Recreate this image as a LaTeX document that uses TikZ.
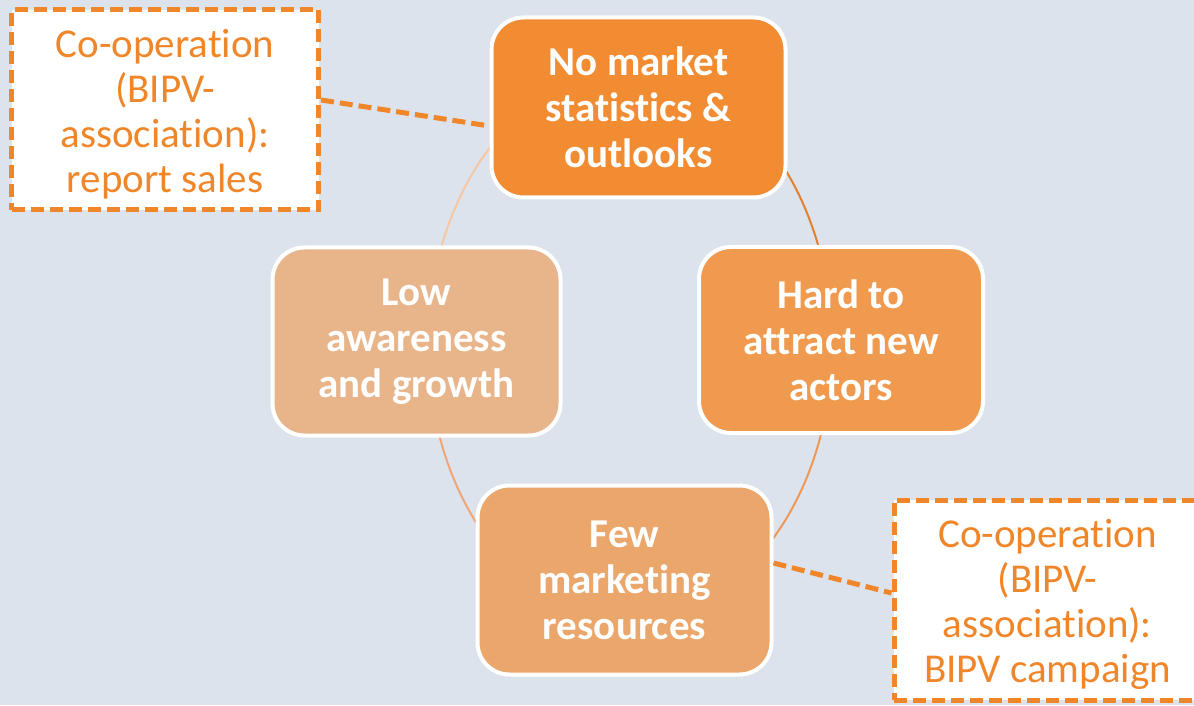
\documentclass[tikz,border=0pt]{standalone}
\usepackage{fontspec}
\setmainfont{Carlito}[Ligatures={NoCommon}]
\definecolor{bgc}{HTML}{DCE3ED}
\definecolor{cOr}{HTML}{F0862A}
\definecolor{fTop}{HTML}{F28C33}
\definecolor{fRight}{HTML}{EF9A4E}
\definecolor{fBottom}{HTML}{EBA66B}
\definecolor{fLeft}{HTML}{E8B48A}
\definecolor{aTL}{HTML}{F7C6A3}
\definecolor{aTR}{HTML}{E2802C}
\definecolor{aBR}{HTML}{EE9858}
\definecolor{aBL}{HTML}{F0A676}
\begin{document}
\begin{tikzpicture}[x=1pt,y=1pt,
  cyc/.style={rectangle, rounded corners=32pt, draw=white, line width=4pt,
    text=white, font=\fontsize{41}{46}\selectfont\bfseries, align=center, inner sep=0pt},
  callout/.style={rectangle, draw=cOr, fill=white, line width=5pt,
    dash pattern=on 13pt off 6pt, text=cOr, font=\fontsize{41}{45}\selectfont,
    align=center, inner sep=0pt, minimum width=307pt, minimum height=200pt},
  link/.style={draw=cOr, line width=5pt, dash pattern=on 13pt off 6pt},
  ring/.style={line width=2pt}]
\useasboundingbox (0,0) rectangle (1194,705);
\clip (0,0) rectangle (1194,705);
\fill[bgc] (0,0) rectangle (1194,705);
% ring (ellipse through the four boxes)
\coordinate (ell) at (630,360);
\draw[ring, aTR] (ell) ++(80:202pt and 274pt) arc[start angle=80, end angle=10, x radius=202pt, y radius=274pt];
\draw[ring, aBR] (ell) ++(350:202pt and 274pt) arc[start angle=350, end angle=280, x radius=202pt, y radius=274pt];
\draw[ring, aBL] (ell) ++(260:202pt and 274pt) arc[start angle=260, end angle=190, x radius=202pt, y radius=274pt];
\draw[ring, aTL] (ell) ++(170:202pt and 274pt) arc[start angle=170, end angle=100, x radius=202pt, y radius=274pt];
% boxes
\node[cyc, fill=fTop, minimum width=294pt, minimum height=180pt] (top) at (638.5,597.5) {No market\\statistics \&\\outlooks};
\node[cyc, fill=fRight, minimum width=284pt, minimum height=186pt] (right) at (841,365) {Hard to\\attract new\\actors};
\node[cyc, fill=fBottom, minimum width=294pt, minimum height=189pt] (bottom) at (624.5,125) {Few\\marketing\\resources};
\node[cyc, fill=fLeft, minimum width=288pt, minimum height=188pt] (left) at (416.5,363.5) {Low\\awareness\\and growth};
% callouts
\node[callout] (tl) at (165,595) {\rule{0pt}{37pt}Co-operation\\(BIPV-\\association):\\report sales};
\node[callout] (br) at (1047.5,105) {\rule{0pt}{38pt}Co-operation\\(BIPV-\\association):\\BIPV campaign};
\draw[link] ([yshift=10pt]tl.east) -- ([yshift=-18.5pt]top.west);
\draw[link] ([yshift=17pt]bottom.east) -- ([yshift=7pt]br.west);
\end{tikzpicture}
\end{document}
